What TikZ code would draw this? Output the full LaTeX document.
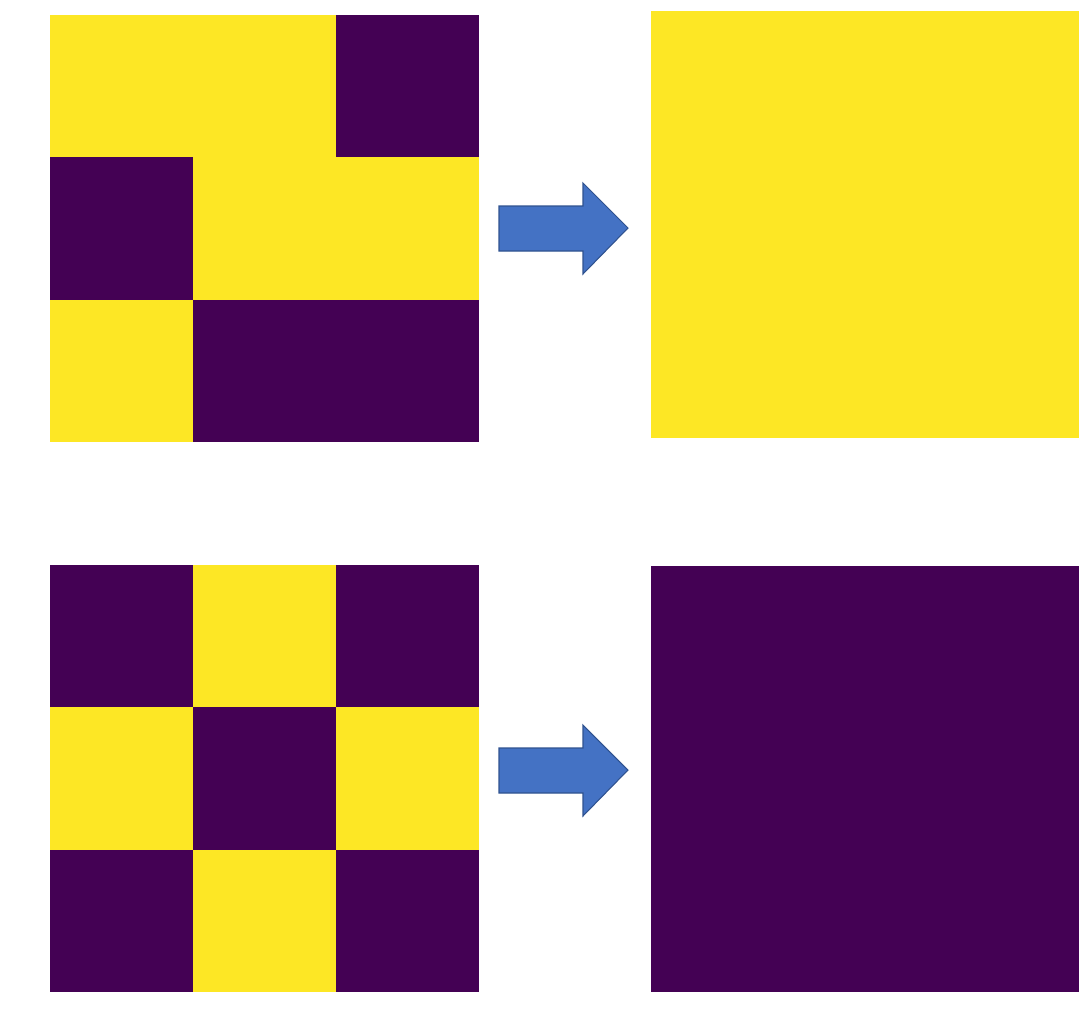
\documentclass[tikz,border=0pt]{standalone}
\usepackage{tikz}
\usetikzlibrary{arrows.meta}
\definecolor{vyellow}{HTML}{FDE725}
\definecolor{vpurple}{HTML}{440154}
\definecolor{arrowfill}{HTML}{4472C4}
\definecolor{arrowline}{HTML}{2F528F}
\tikzset{
  cellY/.style={fill=vyellow},
  cellP/.style={fill=vpurple},
  blockarrow/.style={fill=arrowfill,draw=arrowline,line width=0.6pt,line join=miter},
}
% one 3x3 grid: origin (x,y) in px, list of styles row by row
\newcommand{\viridisgrid}[3]{%
  \foreach \st [count=\i from 0] in {#3} {%
    \pgfmathtruncatemacro{\col}{mod(\i,3)}%
    \pgfmathtruncatemacro{\row}{div(\i,3)}%
    \fill[\st] ({#1+\col*143},{#2+\row*142.3}) rectangle ++(143,142.3);
  }%
}
% block arrow, top of head at y = #1
\newcommand{\blockarrowat}[1]{%
  \draw[blockarrow] (499,#1+23) -- (583,#1+23) -- (583,#1) -- (628,#1+45)
    -- (583,#1+91) -- (583,#1+68) -- (499,#1+68) -- cycle;
}

\begin{document}
\begin{tikzpicture}[x=0.02cm,y=-0.02cm]
  \useasboundingbox (0,0) rectangle (1089,1025);

  % upper row: mostly yellow -> yellow
  \viridisgrid{50}{15}{cellY,cellY,cellP,cellP,cellY,cellY,cellY,cellP,cellP}
  \blockarrowat{183}
  \fill[cellY] (651,11) rectangle (1079,438);

  % lower row: checkerboard -> purple
  \viridisgrid{50}{565}{cellP,cellY,cellP,cellY,cellP,cellY,cellP,cellY,cellP}
  \blockarrowat{725}
  \fill[cellP] (651,566) rectangle (1079,992);
\end{tikzpicture}
\end{document}
